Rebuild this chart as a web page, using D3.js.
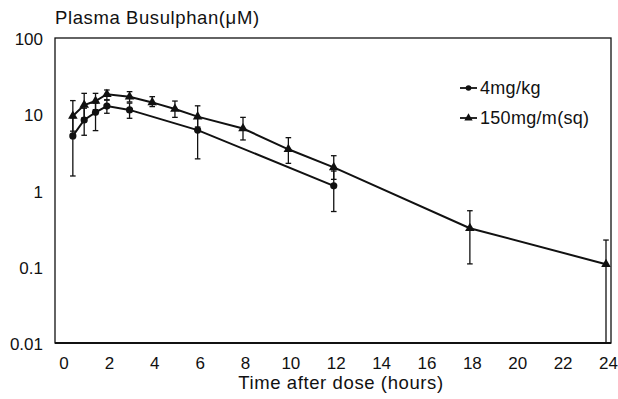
<!DOCTYPE html>
<html><head><meta charset="utf-8">
<script src="https://cdn.jsdelivr.net/npm/d3@7"></script>
<style>
html,body{margin:0;padding:0;background:#fff;}
svg{display:block;font-family:"Liberation Sans",Arial,Helvetica,sans-serif;}
</style></head>
<body><svg id="c" width="618" height="399"></svg>
<script>
// ---- data ----
const xTicks = [0,2,4,6,8,10,12,14,16,18,20,22,24];
const yTicks = [0.01,0.1,1,10,100];
const yTickLabels = ["0.01","0.1","1","10","100"];
const seriesNames = ["4mg/kg","150mg/m(sq)"];

const times4 = [0.5,1,1.5,2,3,6,12];
const mean4  = [5.2,8.4,10.6,12.8,11.4,6.2,1.15];
const lo4    = [1.55,5.3,6.1,10.3,8.85,2.6,0.53];
const hi4    = [9.0,12.0,14.0,15.3,14.0,9.0,1.8];

const times150 = [0.5,1,1.5,2,3,4,5,6,8,10,12,18,24];
const mean150  = [9.5,13.2,14.9,18.3,17.0,14.3,11.7,9.3,6.5,3.47,2.01,0.32,0.108];
const lo150    = [6.0,9.0,11.5,15.5,14.5,12.6,9.1,6.8,4.6,2.27,1.4,0.109,0.01];
const hi150    = [15.1,18.8,18.8,20.8,19.8,17.0,14.9,12.9,9.1,4.93,2.86,0.543,0.224];

// ---- layout ----
const svg = d3.select("#c");
const frame = {l:55, t:38, r:611, b:343};
const x = d3.scaleLinear().domain([0,24]).range([61.5,606]);
const y = d3.scaleLog().domain([0.01,100]).range([343,38]);

// frame
svg.append("rect").attr("x",frame.l).attr("y",frame.t)
  .attr("width",frame.r-frame.l).attr("height",frame.b-frame.t)
  .attr("fill","none").attr("stroke","#111").attr("stroke-width",1.3);
svg.append("line").attr("x1",frame.l).attr("x2",frame.r).attr("y1",frame.b).attr("y2",frame.b)
  .attr("stroke","#111").attr("stroke-width",2);

// y tick labels
svg.append("g").selectAll("text").data(yTicks).join("text")
  .attr("x",43).attr("y",d=>y(d)+7)
  .attr("text-anchor","end").attr("font-size",17).attr("fill","#111")
  .text((d,i)=>yTickLabels[i]);

// x tick labels
svg.append("g").selectAll("text").data(xTicks).join("text")
  .attr("x",d=>x(d)+2.5).attr("y",369)
  .attr("text-anchor","middle").attr("font-size",17).attr("fill","#111")
  .text(d=>d);

// titles
svg.append("text").attr("x",55).attr("y",24).attr("font-size",18.5)
  .attr("letter-spacing",0.6).attr("fill","#111").text("Plasma Busulphan(\u03bcM)");
svg.append("text").attr("x",341).attr("y",389).attr("text-anchor","middle")
  .attr("font-size",18.5).attr("letter-spacing",0.6).attr("fill","#111").text("Time after dose (hours)");

// series
function drawSeries(times, mean, lo, hi, marker){
  const pts = times.map((t,i)=>({t, m:mean[i], lo:lo[i], hi:hi[i]}));
  const g = svg.append("g");
  // error bars
  const eb = g.append("g").attr("stroke","#111").attr("stroke-width",1.3);
  pts.forEach(p=>{
    eb.append("line").attr("x1",x(p.t)).attr("x2",x(p.t)).attr("y1",y(p.lo)).attr("y2",y(p.hi));
    eb.append("line").attr("x1",x(p.t)-2.8).attr("x2",x(p.t)+2.8).attr("y1",y(p.hi)).attr("y2",y(p.hi));
    if (p.lo > 0.0101) eb.append("line").attr("x1",x(p.t)-2.8).attr("x2",x(p.t)+2.8).attr("y1",y(p.lo)).attr("y2",y(p.lo));
  });
  g.append("path").datum(pts)
    .attr("d",d3.line().x(p=>x(p.t)).y(p=>y(p.m)))
    .attr("fill","none").attr("stroke","#111").attr("stroke-width",2);
  if (marker==="circle"){
    g.selectAll("circle").data(pts).join("circle")
      .attr("cx",p=>x(p.t)).attr("cy",p=>y(p.m)).attr("r",3.6).attr("fill","#111");
  } else {
    g.selectAll("path.m").data(pts).join("path").attr("class","m")
      .attr("transform",p=>`translate(${x(p.t)},${y(p.m)})`)
      .attr("d",d3.symbol(d3.symbolTriangle,40)()).attr("fill","#111");
  }
}
drawSeries(times4, mean4, lo4, hi4, "circle");
drawSeries(times150, mean150, lo150, hi150, "triangle");

// legend
const leg = svg.append("g");
const legY = [88,118];
seriesNames.forEach((name,i)=>{
  leg.append("line").attr("x1",460).attr("x2",477).attr("y1",legY[i]).attr("y2",legY[i])
    .attr("stroke","#111").attr("stroke-width",1.8);
  if(i===0) leg.append("circle").attr("cx",468.5).attr("cy",legY[i]).attr("r",2.8).attr("fill","#111");
  else leg.append("path").attr("transform",`translate(468.5,${legY[i]})`)
    .attr("d",d3.symbol(d3.symbolTriangle,30)()).attr("fill","#111");
  leg.append("text").attr("x",480).attr("y",legY[i]+6).attr("font-size",18)
    .attr("letter-spacing",0.3).attr("fill","#111").text(name);
});
</script></body></html>
